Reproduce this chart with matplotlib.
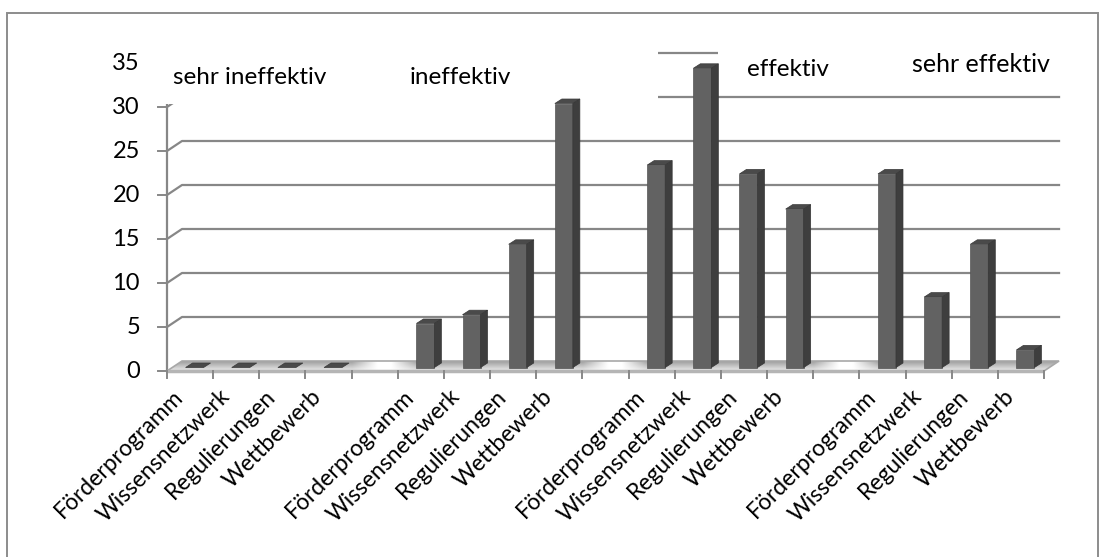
import numpy as np
import matplotlib.pyplot as plt
from matplotlib.patches import Polygon, Rectangle

# --- data ---
categories = ["Förderprogramm", "Wissensnetzwerk", "Regulierungen", "Wettbewerb"]
groups = ["sehr ineffektiv", "ineffektiv", "effektiv", "sehr effektiv"]
sehr_ineffektiv = [0, 0, 0, 0]
ineffektiv = [5, 6, 14, 30]
effektiv = [23, 34, 22, 18]
sehr_effektiv = [22, 8, 14, 2]
y_ticks = [0, 5, 10, 15, 20, 25, 30, 35]

series = [sehr_ineffektiv, ineffektiv, effektiv, sehr_effektiv]

# --- layout (pixel scale of the pseudo-3d plot) ---
PX = 46.16   # px per category slot
PY = 8.8     # px per value unit
X0, Y0 = 167, 371   # front-left corner of the floor in px
W, H = 1106, 557
n_slots = len(groups) * (len(categories) + 1) - 1

def dx(p):
    return p / PX

def dy(p):
    return p / PY

floor_dx, floor_dy = dx(15), dy(10)      # depth of the floor / back wall
bar_ox, bar_oy = dx(4.5), dy(3.5)        # front face of the bars
bar_dx, bar_dy = dx(7), dy(4.5)          # bar depth
bar_w = dx(18)

grid_c = "#878787"
font = ["Lato", "DejaVu Sans"]

fig = plt.figure(figsize=(W / 100, H / 100), dpi=100)
ax = fig.add_axes([0, 0, 1, 1])
ax.set_xlim(-X0 / PX, (W - X0) / PX)
ax.set_ylim((Y0 - H) / PY, Y0 / PY)
ax.axis("off")

# outer chart frame
fig.patches.append(Rectangle((7 / W, -0.1), (1098 - 7) / W, (H - 13) / H + 0.1,
                             transform=fig.transFigure, fill=False,
                             edgecolor="#8c8c8c", lw=1.4))

# floor with soft white fade in the empty slots
floor = Polygon([(0, 0), (n_slots, 0), (n_slots + floor_dx, floor_dy),
                 (floor_dx, floor_dy)], closed=True, facecolor="none",
                edgecolor="#a8a8a8", lw=1.2, zorder=2.2)
ax.add_patch(floor)
sx = np.linspace(0, n_slots + floor_dx, 900)
vy = np.linspace(0, floor_dy, 30)
blank_centers = np.array([g * 5 + 4.5 for g in range(len(groups) - 1)])
dist = np.min(np.abs(sx[:, None] - 0.2 - blank_centers[None, :]), axis=1)
wgt = np.clip((dist - 0.15) / 0.55, 0, 1)
shade = 0.62 + 0.3 * (1 - vy / floor_dy)
img = 1 - wgt[None, :] * (1 - shade[:, None])
im = ax.imshow(np.dstack([img] * 3), extent=(0, n_slots + floor_dx, 0, floor_dy),
               origin="lower", aspect="auto", interpolation="bilinear", zorder=2)
im.set_clip_path(floor)
ax.plot([0, n_slots], [0, 0], color="#b5b5b5", lw=2.5, zorder=2.3,
        solid_capstyle="butt")

# back-wall gridlines with the slanted link to the front axis
for v in y_ticks[1:]:
    ax.plot([0, floor_dx, n_slots + floor_dx], [v, v + floor_dy, v + floor_dy],
            color=grid_c, lw=1.6, zorder=1)

# front value axis and its ticks
ax.plot([0, 0], [0, y_ticks[-1]], color=grid_c, lw=1.6, zorder=1)
for v in y_ticks:
    ax.plot([-dx(9), 0], [v, v], color=grid_c, lw=1.4, zorder=1)
    ax.text(-dx(27), v, str(v), ha="right", va="center", fontsize=17,
            family=font, color="black")

# category axis ticks
for s in range(n_slots + 1):
    ax.plot([s, s], [0, -dy(7)], color=grid_c, lw=1.4, zorder=2.4)

# white label boxes on top of the upper gridlines
boxes = [((-dx(12), 30.35), dx(503), 8.0), ((dx(551), 33.5), dx(400), 5.5)]
box_patches = []
for (bx, by), bw, bh in boxes:
    r = Rectangle((bx, by), bw, bh, facecolor="white", edgecolor="none", zorder=2.6)
    ax.add_patch(r)
    box_patches.append(r)

# bars
for g, vals in enumerate(series):
    for c, v in enumerate(vals):
        s = g * 5 + c
        x0 = s + 0.5 - bar_w / 2 + bar_ox
        y0 = bar_oy
        x1 = x0 + bar_w
        top = y0 + v
        ax.add_patch(Polygon([(x0, top), (x1, top), (x1 + bar_dx, top + bar_dy),
                              (x0 + bar_dx, top + bar_dy)],
                             facecolor="#4a4a4a", edgecolor="#3a3a3a", lw=0.5, zorder=3))
        if v > 0:
            ax.add_patch(Rectangle((x0, y0), bar_w, v, facecolor="#626262",
                                   edgecolor="#555555", lw=0.5, zorder=3))
            ax.add_patch(Polygon([(x1, y0), (x1 + bar_dx, y0 + bar_dy),
                                  (x1 + bar_dx, top + bar_dy), (x1, top)],
                                 facecolor="#3e3e3e", edgecolor="#363636", lw=0.5, zorder=3))

# category labels
for g in range(len(groups)):
    for c, name in enumerate(categories):
        s = g * 5 + c
        ax.text(s + 0.5 - dx(10), -dy(22), name, rotation=45, rotation_mode="anchor",
                ha="right", va="center", fontsize=16.5, family=font, color="black")

# group captions
cap_x = [dx(6), dx(243), dx(580), dx(745)]
cap_y = [33.3, 33.3, 34.3, 34.8]
cap_size = [17.5, 17.5, 17.5, 18]
for g, name in enumerate(groups):
    t = ax.text(cap_x[g], cap_y[g], name, ha="left", va="center", fontsize=cap_size[g],
                family=font, color="black", zorder=4)
    t.set_clip_path(box_patches[0] if g < 2 else box_patches[1])

fig.savefig("out.png", dpi=100)
